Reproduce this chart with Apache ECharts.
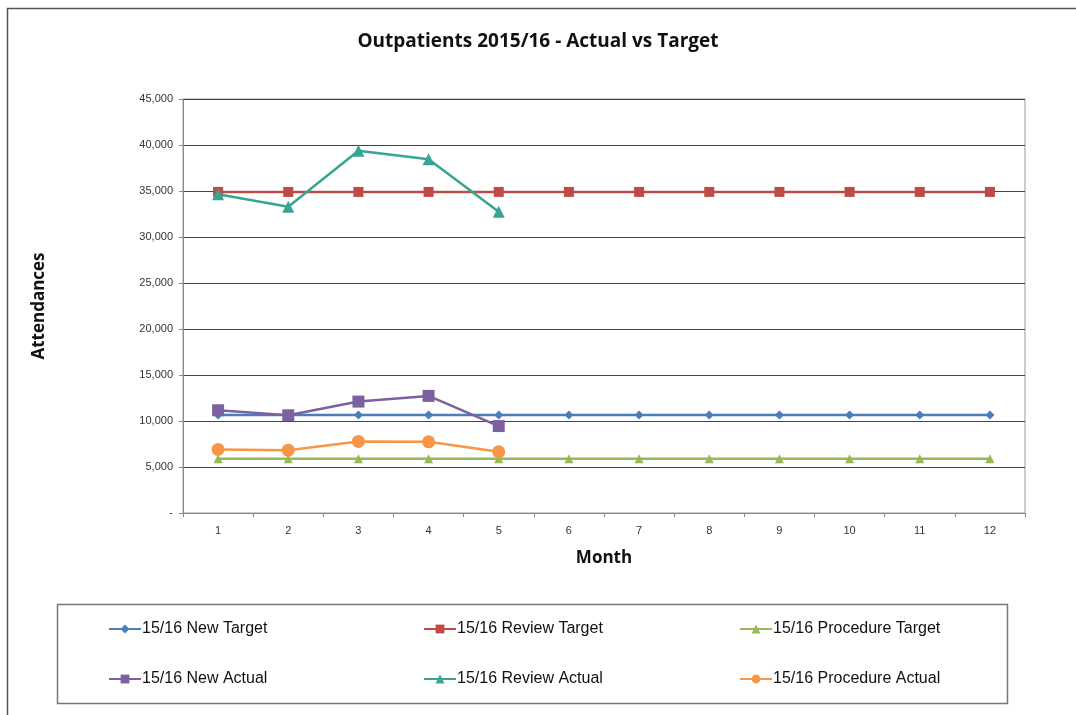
<!DOCTYPE html>
<html>
<head>
<meta charset="utf-8">
<script src="https://cdn.jsdelivr.net/npm/echarts@6/dist/echarts.min.js"></script>
<style>
html,body{margin:0;padding:0;background:#fff;}
#main{width:1076px;height:715px;}
</style>
</head>
<body>
<div id="main"></div>
<script>
// 月份
var months = ['1', '2', '3', '4', '5', '6', '7', '8', '9', '10', '11', '12'];
// 目标
var newTarget = [10650, 10650, 10650, 10650, 10650, 10650, 10650, 10650, 10650, 10650, 10650, 10650];
var reviewTarget = [34900, 34900, 34900, 34900, 34900, 34900, 34900, 34900, 34900, 34900, 34900, 34900];
var procedureTarget = [5900, 5900, 5900, 5900, 5900, 5900, 5900, 5900, 5900, 5900, 5900, 5900];
// 实际
var newActual = [11170, 10620, 12110, 12730, 9450];
var reviewActual = [34640, 33290, 39370, 38460, 32740];
var procedureActual = [6910, 6830, 7780, 7740, 6650];

var font = '"Liberation Sans", Arial, sans-serif';

function mkSeries(name, data, color, symbol, size, z){
	return {
		name: name,
		type: 'line',
		data: data,
		symbol: symbol,
		symbolSize: size,
		z: z,
		lineStyle: {color: color, width: 2.5},
		itemStyle: {color: color},
		emphasis: {disabled: true}
	};
}

function mkLegend(names, left){
	return {
		orient: 'vertical',
		left: left,
		top: 616,
		itemGap: 34,
		itemWidth: 32,
		itemHeight: 11,
		data: names,
		textStyle: {fontFamily: font, fontSize: 16, color: '#111', padding: [0, 0, 0, -4]}
	};
}

option = {
	backgroundColor: '#fff',
	animation: false,
	title: {
		text: 'Outpatients 2015/16 - Actual vs Target',
		left: 'center',
		top: 27,
		textStyle: {fontFamily: '"Open Sans", "Noto Sans", sans-serif', fontSize: 19, fontWeight: 'bold', color: '#111'}
	},
	graphic: [
		{type: 'rect', shape: {x: 7.5, y: 8.5, width: 1090, height: 730}, style: {fill: 'none', stroke: '#555', lineWidth: 1.5}, silent: true},
		{type: 'rect', shape: {x: 57.5, y: 604.5, width: 950, height: 99}, style: {fill: 'none', stroke: '#777', lineWidth: 1.5}, silent: true}
	],
	legend: [
		mkLegend(['15/16 New Target', '15/16 New Actual'], 103),
		mkLegend(['15/16 Review Target', '15/16 Review Actual'], 418),
		mkLegend(['15/16 Procedure Target', '15/16 Procedure Actual'], 734)
	],
	grid: {
		left: 183,
		right: 51,
		top: 99,
		bottom: 202,
		show: true,
		borderColor: '#999',
		borderWidth: 1
	},
	xAxis: {
		type: 'category',
		data: months,
		boundaryGap: true,
		name: 'Month',
		nameLocation: 'middle',
		nameGap: 37,
		nameTextStyle: {fontFamily: '"Open Sans", "Noto Sans", sans-serif', fontSize: 17, fontWeight: 'bold', color: '#111'},
		axisLine: {lineStyle: {color: '#888', width: 1}},
		axisTick: {show: true, length: 4, lineStyle: {color: '#888'}},
		axisLabel: {fontFamily: font, fontSize: 11, color: '#333', margin: 12}
	},
	yAxis: {
		type: 'value',
		min: 0,
		max: 45000,
		interval: 5000,
		name: 'Attendances',
		nameLocation: 'middle',
		nameGap: 135,
		nameRotate: 90,
		nameTextStyle: {fontFamily: '"Open Sans", "Noto Sans", sans-serif', fontSize: 17, fontWeight: 'bold', color: '#111'},
		axisLine: {show: true, lineStyle: {color: '#888', width: 1}},
		axisTick: {show: true, length: 4, lineStyle: {color: '#888'}},
		axisLabel: {
			fontFamily: font, fontSize: 11, color: '#333', margin: 10,
			formatter: function(v){ return v === 0 ? '-' : v.toLocaleString('en-US'); }
		},
		splitLine: {show: true, lineStyle: {color: '#444', width: 1}}
	},
	series: [
		mkSeries('15/16 New Target', newTarget, '#4A7EBB', 'diamond', 9, 2),
		mkSeries('15/16 Review Target', reviewTarget, '#BE4B48', 'rect', 10, 2),
		mkSeries('15/16 Procedure Target', procedureTarget, '#98B954', 'triangle', 9, 2),
		mkSeries('15/16 New Actual', newActual, '#7D60A0', 'rect', 12, 3),
		mkSeries('15/16 Review Actual', reviewActual, '#36A592', 'triangle', 12, 3),
		mkSeries('15/16 Procedure Actual', procedureActual, '#F79646', 'circle', 13, 3)
	]
};
var myChart = echarts.init(document.getElementById('main'));
myChart.setOption(option);
</script>
</body>
</html>
